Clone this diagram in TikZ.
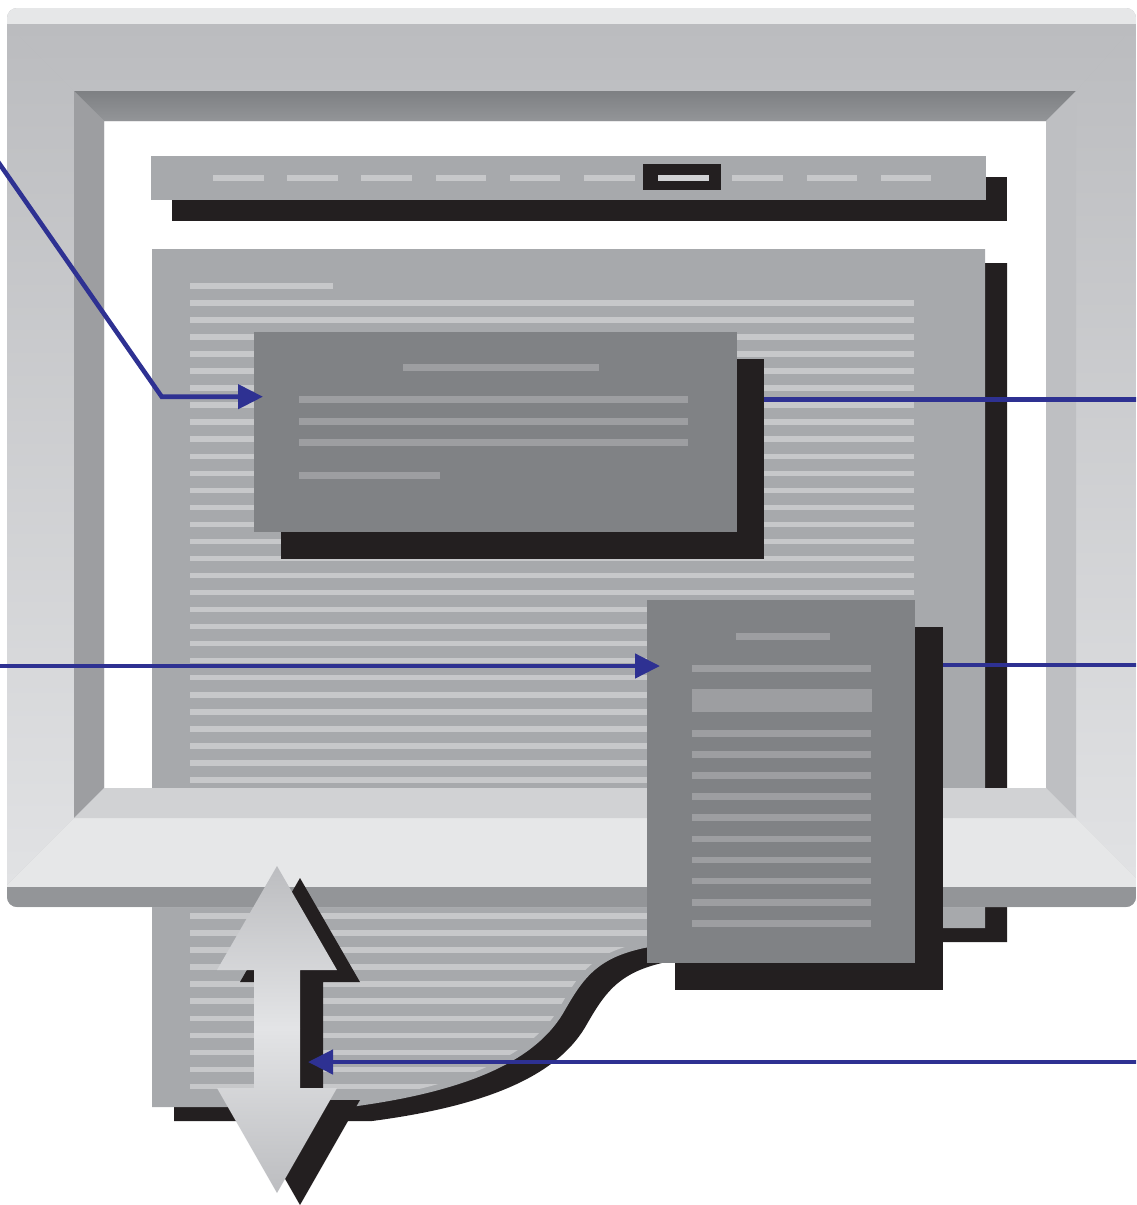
\documentclass[tikz,border=0pt]{standalone}
\usetikzlibrary{arrows.meta}
\definecolor{senkacrna}{HTML}{231F20}
\definecolor{strana}{HTML}{A7A9AC}
\definecolor{redaksvetli}{HTML}{C7C8CA}
\definecolor{prozor}{HTML}{808285}
\definecolor{redaktamni}{HTML}{9D9EA1}
\definecolor{plava}{HTML}{2E3192}
\definecolor{okvirsvetli}{HTML}{E6E7E8}
\definecolor{okvirgore}{HTML}{BBBCBF}
\definecolor{okvirgoredole}{HTML}{BEBFC2}
\definecolor{okvirstrana}{HTML}{BBBCBF}
\definecolor{okvirdole}{HTML}{E1E2E4}
\definecolor{okvirtamni}{HTML}{939598}
\definecolor{kosinagore}{HTML}{7E8083}
\definecolor{kosinalevo}{HTML}{9D9EA1}
\definecolor{kosinadesno}{HTML}{BEBFC2}
\definecolor{kosinadole}{HTML}{D1D2D4}
\definecolor{strelicatamna}{HTML}{BCBDC0}
\definecolor{strelicasvetla}{HTML}{E3E4E6}
% obris strane koja se nastavlja ispod ekrana
\newcommand{\obrisstrane}{(152,249) -- (985,249) -- (985,928) -- (655,928) -- (655,946)
    .. controls (600,955) and (585,975) .. (565,1010)
    .. controls (540,1055) and (480,1090) .. (350,1107) -- (152,1107) -- cycle}
% dvostruka strelica za pomeranje
\newcommand{\obrisstrelice}{(277,866) -- (337,970) -- (300,970) -- (300,1088) -- (337,1088)
    -- (277,1193) -- (217,1088) -- (254,1088) -- (254,970) -- (217,970) -- cycle}
\begin{document}
\begin{tikzpicture}[x=1pt, y=-1pt,
    panel/.style={fill=prozor, inner sep=0pt, outer sep=0pt, anchor=north west},
    senka/.style={fill=senkacrna, inner sep=0pt, outer sep=0pt, anchor=north west},
    traka/.style={fill=strana, inner sep=0pt, outer sep=0pt, anchor=north west},
    redak/.style={fill=redaksvetli},
    stavka/.style={fill=redaktamni},
    pokazivac/.style={draw=plava, line width=4.6pt, -{Triangle[length=25pt,width=24pt]}},
    vodilica/.style={draw=plava, line width=4.6pt}]
    \useasboundingbox (0,0) rectangle (1136,1205);
    \clip (0,0) rectangle (1136,1205);
    % traka za navigaciju
    \node [senka, minimum width=835pt, minimum height=44pt] (navsenka) at (172,177) {};
    \node [traka, minimum width=835pt, minimum height=44pt] (nav) at (151,156) {};
    \foreach \k in {0,...,9}{
        \fill [redak] ({213+74.2*\k},175) rectangle ({263.5+74.2*\k},180.7);
    }
    \fill [senkacrna] (643,164) rectangle (721,190);
    \fill [kosinadole] (658,175) rectangle (708.7,180.7);
    % strana sa tekstom
    \fill [senkacrna, shift={(22,14)}] \obrisstrane;
    \fill [strana] \obrisstrane;
    \begin{scope}
        \clip [shift={(-4,-5)}] \obrisstrane;
        \fill [redak] (190,283.2) rectangle (333,288.8);
        \foreach \k in {1,...,47}{
            \fill [redak] (190,{286+17.03*\k-2.8}) rectangle (914,{286+17.03*\k+2.8});
        }
    \end{scope}
    % iskacuci prozor
    \node [senka, minimum width=483pt, minimum height=199.7pt] (prozorsenka) at (281,359) {};
    \node [panel, minimum width=483pt, minimum height=199.7pt] (prozor) at (254,332) {};
    \fill [stavka] (403,364.3) rectangle (599,371);
    \foreach \y in {396.3,418,439.3}{
        \fill [stavka] (298.7,\y) rectangle (688,\y+6.5);
    }
    \fill [stavka] (298.7,472.3) rectangle (439.7,479);
    % okvir monitora
    \begin{scope}
        \clip [rounded corners=10pt] (7,8) rectangle (1136,907);
        \fill [okvirstrana, even odd rule] (7,8) rectangle (1136,907) (104,121) rectangle (1046,788);
        \fill [okvirsvetli] (7,8) rectangle (1136,24);
        \shade [top color=okvirgore, bottom color=okvirgoredole] (7,24) -- (1136,24) -- (1076,91) -- (74,91) -- cycle;
        \shade [top color=okvirstrana, bottom color=okvirdole] (7,24) -- (74,91) -- (74,818) -- (7,885) -- cycle;
        \shade [top color=okvirstrana, bottom color=okvirdole] (1136,24) -- (1076,91) -- (1076,818) -- (1136,878) -- cycle;
        \fill [okvirsvetli] (74,818) -- (1076,818) -- (1136,878) -- (1136,887) -- (7,887) -- (7,885) -- cycle;
        \fill [okvirtamni] (7,887) rectangle (1136,907);
    \end{scope}
    % unutrasnje kosine
    \shade [top color=kosinagore, bottom color=okvirtamni] (74,91) -- (1076,91) -- (1046,121) -- (104,121) -- cycle;
    \fill [kosinalevo] (74,91) -- (104,121) -- (104,788) -- (74,818) -- cycle;
    \fill [kosinadesno] (1076,91) -- (1046,121) -- (1046,788) -- (1076,818) -- cycle;
    \fill [kosinadole] (74,818) -- (104,788) -- (1046,788) -- (1076,818) -- cycle;
    % padajuci meni
    \node [senka, minimum width=268pt, minimum height=363pt] (menisenka) at (675,627) {};
    \node [panel, minimum width=268pt, minimum height=362.7pt] (meni) at (647,600) {};
    \fill [stavka] (736.3,633.3) rectangle (830,640);
    \fill [stavka] (692,665) rectangle (871.3,671.7);
    \fill [stavka] (692,688.7) rectangle (872,711.7);
    \foreach \k in {0,...,9}{
        \fill [stavka] (692,{730+21.1*\k}) rectangle (871.3,{736.7+21.1*\k});
    }
    % strelica za pomeranje
    \fill [senkacrna, shift={(23,12)}] \obrisstrelice;
    \shade [top color=strelicatamna, bottom color=strelicasvetla]
        (277,866) -- (337,970) -- (300,970) -- (300,1028) -- (254,1028) -- (254,970) -- (217,970) -- cycle;
    \shade [top color=strelicasvetla, bottom color=strelicatamna]
        (254,1028) -- (300,1028) -- (300,1088) -- (337,1088) -- (277,1193) -- (217,1088) -- (254,1088) -- cycle;
    \coordinate (klizac) at (300,1062);
    % pokazivaci
    \coordinate (levogore) at (-6,156);
    \coordinate (lakat) at (161.7,396.7);
    \coordinate (levosredina) at (-6,666);
    \coordinate (desnogore) at (1142,399.5);
    \coordinate (desnosredina) at (1142,665);
    \coordinate (desnodole) at (1142,1062);
    \draw [pokazivac, shorten >=-9pt] (levogore) -- (lakat) -- (lakat -| prozor.west);
    \draw [pokazivac, shorten >=-13pt] (levosredina) -- (levosredina -| meni.west);
    \draw [pokazivac, shorten >=8pt] (desnodole) -- (klizac);
    \draw [vodilica] (desnogore) -- (desnogore -| prozorsenka.east);
    \draw [vodilica] (desnosredina) -- (desnosredina -| menisenka.east);
\end{tikzpicture}
\end{document}
